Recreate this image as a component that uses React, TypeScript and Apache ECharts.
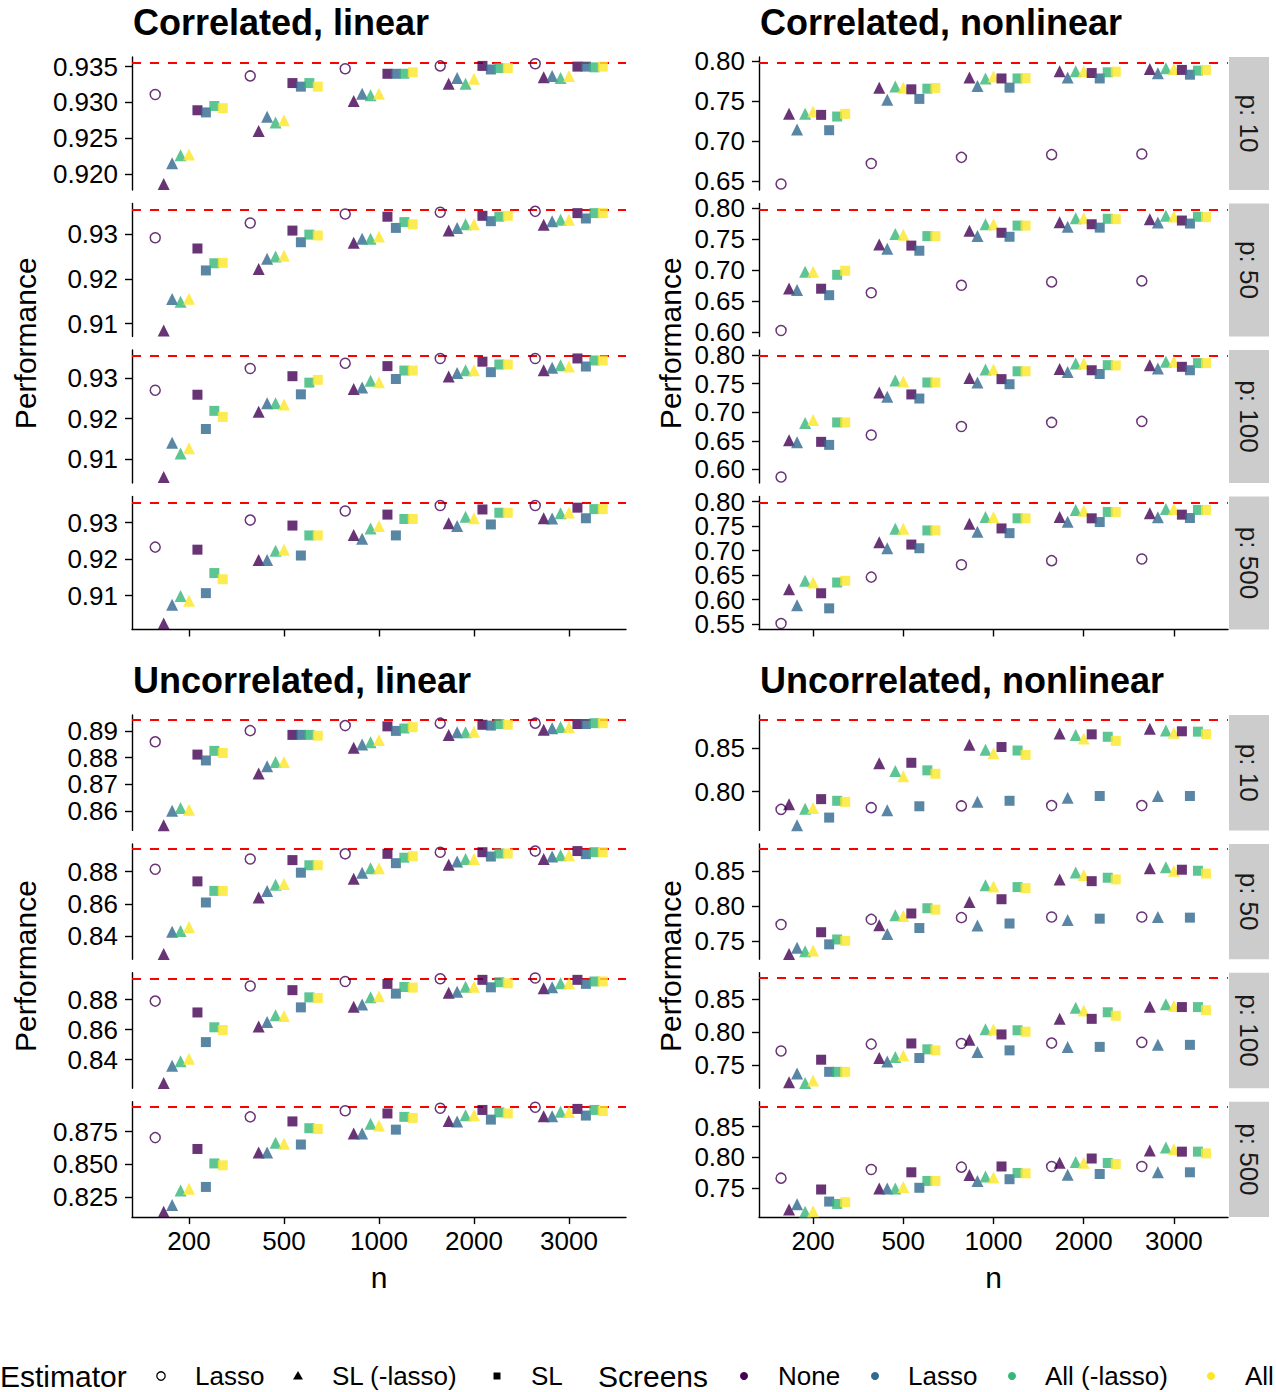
import React, { useEffect, useRef } from "react";
import * as echarts from "echarts";

// ---------- categories & labels ----------
const nLabels = ["200", "500", "1000", "2000", "3000"];
const pLabels = ["p: 10", "p: 50", "p: 100", "p: 500"];
const panelTitles = ["Correlated, linear", "Correlated, nonlinear", "Uncorrelated, linear", "Uncorrelated, nonlinear"];
const estimatorNames = ["Lasso", "SL (-lasso)", "SL"];
const screenNames = ["None", "Lasso", "All (-lasso)", "All"];

// series order inside each facet: [estimator, screen]
const seriesDefs: [string, string][] = [
  ["Lasso", "None"],
  ["SL (-lasso)", "None"], ["SL (-lasso)", "Lasso"], ["SL (-lasso)", "All (-lasso)"], ["SL (-lasso)", "All"],
  ["SL", "None"], ["SL", "Lasso"], ["SL", "All (-lasso)"], ["SL", "All"],
];

// reference (dashed) lines per panel
const refLines = [0.9355, 0.798, 0.894, 0.882];

// y tick labels per panel / facet
const ticksCorrLin = [[0.92, 0.925, 0.93, 0.935], [0.91, 0.92, 0.93], [0.91, 0.92, 0.93], [0.91, 0.92, 0.93]];
const ticksCorrNonlin = [[0.65, 0.7, 0.75, 0.8], [0.6, 0.65, 0.7, 0.75, 0.8], [0.6, 0.65, 0.7, 0.75, 0.8], [0.55, 0.6, 0.65, 0.7, 0.75, 0.8]];
const ticksUncorrLin = [[0.86, 0.87, 0.88, 0.89], [0.84, 0.86, 0.88], [0.84, 0.86, 0.88], [0.825, 0.85, 0.875]];
const ticksUncorrNonlin = [[0.8, 0.85], [0.75, 0.8, 0.85], [0.75, 0.8, 0.85], [0.75, 0.8, 0.85]];
const decCorrLin = [3, 2, 2, 2];
const decCorrNonlin = [2, 2, 2, 2];
const decUncorrLin = [2, 2, 2, 3];
const decUncorrNonlin = [2, 2, 2, 2];

// ---------- data: rows follow seriesDefs, columns follow nLabels ----------
const corrLin_p10 = [
  [0.9311, 0.9337, 0.9347, 0.9351, 0.9354],
  [0.9186, 0.9260, 0.9302, 0.9326, 0.9335],
  [0.9215, 0.9280, 0.9312, 0.9334, 0.9337],
  [0.9226, 0.9272, 0.9310, 0.9326, 0.9334],
  [0.9227, 0.9275, 0.9312, 0.9333, 0.9337],
  [0.9289, 0.9327, 0.9340, 0.9351, 0.9350],
  [0.9286, 0.9322, 0.9340, 0.9346, 0.9350],
  [0.9295, 0.9327, 0.9340, 0.9348, 0.9349],
  [0.9292, 0.9322, 0.9342, 0.9348, 0.9350],
];
const corrLin_p50 = [
  [0.9292, 0.9325, 0.9345, 0.9349, 0.9351],
  [0.9085, 0.9222, 0.9281, 0.9308, 0.9321],
  [0.9155, 0.9245, 0.9290, 0.9314, 0.9329],
  [0.9149, 0.9250, 0.9290, 0.9322, 0.9332],
  [0.9156, 0.9252, 0.9295, 0.9322, 0.9332],
  [0.9268, 0.9308, 0.9339, 0.9341, 0.9347],
  [0.9219, 0.9282, 0.9314, 0.9329, 0.9335],
  [0.9235, 0.9299, 0.9327, 0.9339, 0.9347],
  [0.9236, 0.9297, 0.9322, 0.9341, 0.9347],
];
const corrLin_p100 = [
  [0.9270, 0.9324, 0.9337, 0.9349, 0.9349],
  [0.9055, 0.9217, 0.9273, 0.9304, 0.9320],
  [0.9140, 0.9238, 0.9277, 0.9313, 0.9326],
  [0.9113, 0.9238, 0.9294, 0.9320, 0.9332],
  [0.9126, 0.9235, 0.9290, 0.9320, 0.9329],
  [0.9259, 0.9305, 0.9330, 0.9341, 0.9349],
  [0.9174, 0.9260, 0.9298, 0.9315, 0.9329],
  [0.9219, 0.9289, 0.9319, 0.9334, 0.9344],
  [0.9204, 0.9296, 0.9319, 0.9334, 0.9344],
];
const corrLin_p500 = [
  [0.9233, 0.9307, 0.9332, 0.9347, 0.9347],
  [0.9024, 0.9198, 0.9266, 0.9298, 0.9312],
  [0.9075, 0.9198, 0.9256, 0.9291, 0.9311],
  [0.9099, 0.9223, 0.9284, 0.9316, 0.9326],
  [0.9086, 0.9226, 0.9291, 0.9312, 0.9328],
  [0.9226, 0.9292, 0.9322, 0.9336, 0.9341],
  [0.9107, 0.9210, 0.9265, 0.9295, 0.9312],
  [0.9162, 0.9265, 0.9310, 0.9327, 0.9337],
  [0.9145, 0.9265, 0.9310, 0.9327, 0.9337],
];

const corrNonlin_p10 = [
  [0.6466, 0.6722, 0.6799, 0.6833, 0.6841],
  [0.7344, 0.7672, 0.7800, 0.7876, 0.7906],
  [0.7148, 0.7519, 0.7693, 0.7800, 0.7851],
  [0.7344, 0.7685, 0.7787, 0.7876, 0.7915],
  [0.7374, 0.7672, 0.7813, 0.7876, 0.7906],
  [0.7331, 0.7651, 0.7787, 0.7855, 0.7894],
  [0.7139, 0.7531, 0.7672, 0.7787, 0.7834],
  [0.7310, 0.7659, 0.7787, 0.7864, 0.7885],
  [0.7344, 0.7668, 0.7791, 0.7872, 0.7894],
];
const corrNonlin_p50 = [
  [0.6022, 0.6632, 0.6753, 0.6808, 0.6824],
  [0.6703, 0.7412, 0.7637, 0.7775, 0.7824],
  [0.6676, 0.7346, 0.7550, 0.7703, 0.7769],
  [0.6973, 0.7582, 0.7742, 0.7841, 0.7879],
  [0.6973, 0.7571, 0.7742, 0.7841, 0.7868],
  [0.6698, 0.7396, 0.7604, 0.7742, 0.7802],
  [0.6593, 0.7313, 0.7539, 0.7687, 0.7753],
  [0.6923, 0.7550, 0.7720, 0.7830, 0.7863],
  [0.6989, 0.7550, 0.7720, 0.7824, 0.7857],
];
const corrNonlin_p100 = [
  [0.5869, 0.6601, 0.6750, 0.6821, 0.6839],
  [0.6512, 0.7345, 0.7595, 0.7756, 0.7821],
  [0.6476, 0.7268, 0.7518, 0.7702, 0.7762],
  [0.6810, 0.7554, 0.7744, 0.7851, 0.7881],
  [0.6863, 0.7536, 0.7744, 0.7851, 0.7881],
  [0.6482, 0.7310, 0.7577, 0.7732, 0.7792],
  [0.6429, 0.7238, 0.7488, 0.7667, 0.7732],
  [0.6821, 0.7518, 0.7714, 0.7821, 0.7857],
  [0.6821, 0.7518, 0.7714, 0.7816, 0.7857],
];
const corrNonlin_p500 = [
  [0.5514, 0.6459, 0.6712, 0.6795, 0.6829],
  [0.6212, 0.7171, 0.7550, 0.7685, 0.7760],
  [0.5884, 0.7048, 0.7384, 0.7589, 0.7678],
  [0.6384, 0.7445, 0.7685, 0.7829, 0.7849],
  [0.6349, 0.7445, 0.7685, 0.7815, 0.7849],
  [0.6130, 0.7123, 0.7452, 0.7658, 0.7733],
  [0.5822, 0.7048, 0.7356, 0.7582, 0.7664],
  [0.6349, 0.7411, 0.7658, 0.7788, 0.7829],
  [0.6384, 0.7411, 0.7658, 0.7788, 0.7829],
];

const uncorrLin_p10 = [
  [0.8859, 0.8901, 0.8920, 0.8929, 0.8929],
  [0.8546, 0.8740, 0.8837, 0.8885, 0.8904],
  [0.8600, 0.8767, 0.8849, 0.8895, 0.8910],
  [0.8610, 0.8783, 0.8857, 0.8895, 0.8915],
  [0.8604, 0.8783, 0.8866, 0.8897, 0.8914],
  [0.8811, 0.8885, 0.8917, 0.8923, 0.8926],
  [0.8789, 0.8885, 0.8900, 0.8920, 0.8926],
  [0.8825, 0.8885, 0.8909, 0.8926, 0.8929],
  [0.8817, 0.8882, 0.8914, 0.8923, 0.8929],
];
const uncorrLin_p50 = [
  [0.8815, 0.8879, 0.8911, 0.8921, 0.8928],
  [0.8289, 0.8640, 0.8757, 0.8843, 0.8879],
  [0.8428, 0.8681, 0.8794, 0.8864, 0.8894],
  [0.8432, 0.8719, 0.8821, 0.8879, 0.8902],
  [0.8457, 0.8723, 0.8821, 0.8879, 0.8902],
  [0.8740, 0.8872, 0.8911, 0.8921, 0.8928],
  [0.8609, 0.8794, 0.8853, 0.8894, 0.8909],
  [0.8681, 0.8840, 0.8887, 0.8913, 0.8921],
  [0.8681, 0.8840, 0.8896, 0.8913, 0.8921],
];
const uncorrLin_p100 = [
  [0.8791, 0.8892, 0.8922, 0.8940, 0.8945],
  [0.8244, 0.8621, 0.8754, 0.8846, 0.8876],
  [0.8359, 0.8651, 0.8768, 0.8853, 0.8883],
  [0.8389, 0.8697, 0.8816, 0.8887, 0.8910],
  [0.8405, 0.8692, 0.8823, 0.8887, 0.8910],
  [0.8715, 0.8864, 0.8906, 0.8933, 0.8933],
  [0.8517, 0.8749, 0.8841, 0.8883, 0.8906],
  [0.8616, 0.8816, 0.8885, 0.8917, 0.8922],
  [0.8598, 0.8812, 0.8881, 0.8910, 0.8922],
];
const uncorrLin_p500 = [
  [0.8705, 0.8864, 0.8911, 0.8930, 0.8938],
  [0.8136, 0.8591, 0.8737, 0.8832, 0.8869],
  [0.8189, 0.8591, 0.8737, 0.8829, 0.8869],
  [0.8300, 0.8665, 0.8811, 0.8877, 0.8903],
  [0.8314, 0.8657, 0.8798, 0.8877, 0.8901],
  [0.8618, 0.8829, 0.8890, 0.8917, 0.8925],
  [0.8327, 0.8652, 0.8766, 0.8843, 0.8874],
  [0.8507, 0.8777, 0.8864, 0.8898, 0.8917],
  [0.8493, 0.8771, 0.8856, 0.8890, 0.8909],
];

const uncorrNonlin_p10 = [
  [0.7795, 0.7815, 0.7835, 0.7839, 0.7839],
  [0.7854, 0.8327, 0.8539, 0.8669, 0.8721],
  [0.7614, 0.7784, 0.7882, 0.7929, 0.7949],
  [0.7803, 0.8236, 0.8480, 0.8650, 0.8701],
  [0.7811, 0.8177, 0.8441, 0.8610, 0.8677],
  [0.7913, 0.8331, 0.8512, 0.8658, 0.8693],
  [0.7701, 0.7831, 0.7894, 0.7949, 0.7949],
  [0.7894, 0.8244, 0.8472, 0.8630, 0.8689],
  [0.7882, 0.8205, 0.8421, 0.8583, 0.8661],
];
const uncorrNonlin_p50 = [
  [0.7739, 0.7813, 0.7838, 0.7848, 0.7848],
  [0.7316, 0.7729, 0.8062, 0.8386, 0.8545],
  [0.7406, 0.7605, 0.7724, 0.7804, 0.7848],
  [0.7356, 0.7873, 0.8301, 0.8485, 0.8560],
  [0.7366, 0.7863, 0.8286, 0.8450, 0.8510],
  [0.7629, 0.7898, 0.8102, 0.8361, 0.8525],
  [0.7455, 0.7689, 0.7754, 0.7823, 0.7838],
  [0.7525, 0.7973, 0.8276, 0.8410, 0.8510],
  [0.7505, 0.7953, 0.8261, 0.8386, 0.8470],
];
const uncorrNonlin_p100 = [
  [0.7711, 0.7816, 0.7826, 0.7832, 0.7842],
  [0.7237, 0.7605, 0.7884, 0.8200, 0.8384],
  [0.7368, 0.7553, 0.7695, 0.7774, 0.7805],
  [0.7226, 0.7621, 0.8042, 0.8368, 0.8421],
  [0.7263, 0.7642, 0.8037, 0.8326, 0.8395],
  [0.7579, 0.7826, 0.7963, 0.8200, 0.8379],
  [0.7395, 0.7605, 0.7721, 0.7774, 0.7805],
  [0.7395, 0.7737, 0.8026, 0.8300, 0.8379],
  [0.7395, 0.7721, 0.8005, 0.8247, 0.8332],
];
const uncorrNonlin_p500 = [
  [0.7657, 0.7798, 0.7837, 0.7848, 0.7848],
  [0.7146, 0.7489, 0.7708, 0.7910, 0.8107],
  [0.7230, 0.7489, 0.7612, 0.7714, 0.7753],
  [0.7107, 0.7489, 0.7685, 0.7921, 0.8157],
  [0.7118, 0.7511, 0.7669, 0.7910, 0.8129],
  [0.7472, 0.7753, 0.7848, 0.7978, 0.8090],
  [0.7275, 0.7500, 0.7640, 0.7725, 0.7753],
  [0.7236, 0.7612, 0.7742, 0.7905, 0.8090],
  [0.7264, 0.7612, 0.7736, 0.7888, 0.8062],
];

// ---------- styling / layout ----------
const FONT = "Liberation Sans, Arial, Helvetica, sans-serif";
const screenColors: Record<string, string> = {
  None: "#440154",
  Lasso: "#31688E",
  "All (-lasso)": "#35B779",
  All: "#FDE725",
};
const colLeft = [132, 759];
const colWidth = [494, 469];
const rowTop = [57, 715];
const facetH = [133, 115.4];
const facetGap = 13.5;
const dodgeWidth = 0.8;
const stripX = 1229;
const stripW = 40;

const panels = [
  { col: 0, row: 0, facets: [corrLin_p10, corrLin_p50, corrLin_p100, corrLin_p500], ticks: ticksCorrLin, dec: decCorrLin, strip: false },
  { col: 1, row: 0, facets: [corrNonlin_p10, corrNonlin_p50, corrNonlin_p100, corrNonlin_p500], ticks: ticksCorrNonlin, dec: decCorrNonlin, strip: true },
  { col: 0, row: 1, facets: [uncorrLin_p10, uncorrLin_p50, uncorrLin_p100, uncorrLin_p500], ticks: ticksUncorrLin, dec: decUncorrLin, strip: false },
  { col: 1, row: 1, facets: [uncorrNonlin_p10, uncorrNonlin_p50, uncorrNonlin_p100, uncorrNonlin_p500], ticks: ticksUncorrNonlin, dec: decUncorrNonlin, strip: true },
];

function buildOption() {
  const grids: any[] = [];
  const xAxes: any[] = [];
  const yAxes: any[] = [];
  const series: any[] = [];
  const graphics: any[] = [];
  const axisLineStyle = { color: "#000", width: 1.4 };

  panels.forEach((panel, pi) => {
    const left = colLeft[panel.col];
    const width = colWidth[panel.col];
    const h = facetH[panel.row];
    const ref = refLines[pi];

    // panel title
    graphics.push({
      type: "text",
      x: left + 1,
      y: rowTop[panel.row] - 35,
      style: { text: panelTitles[pi], font: `bold 36px ${FONT}`, fill: "#000", textVerticalAlign: "middle" },
    });
    // y title
    const mid = rowTop[panel.row] + (4 * h + 3 * facetGap) / 2;
    graphics.push({
      type: "text",
      x: panel.col === 0 ? 25 : 670,
      y: mid,
      rotation: Math.PI / 2,
      style: { text: "Performance", font: `30px ${FONT}`, fill: "#000", textAlign: "center", textVerticalAlign: "middle" },
    });
    if (panel.row === 1) {
      graphics.push({
        type: "text",
        x: left + width / 2,
        y: 1277,
        style: { text: "n", font: `30px ${FONT}`, fill: "#000", textAlign: "center", textVerticalAlign: "middle" },
      });
    }

    panel.facets.forEach((facet, fi) => {
      const gi = grids.length;
      const top = rowTop[panel.row] + fi * (h + facetGap);
      grids.push({ left, top, width, height: h });
      const bottomFacet = fi === 3;
      const labelled = bottomFacet && panel.row === 1;
      xAxes.push({
        type: "value",
        gridIndex: gi,
        min: -0.6,
        max: 4.6,
        axisLine: { show: bottomFacet, onZero: false, lineStyle: axisLineStyle },
        axisTick: { show: bottomFacet, customValues: [0, 1, 2, 3, 4], length: 7, lineStyle: axisLineStyle },
        axisLabel: {
          show: labelled,
          customValues: [0, 1, 2, 3, 4],
          formatter: (v: number) => nLabels[Math.round(v)],
          fontSize: 26,
          fontFamily: FONT,
          color: "#000",
          margin: 11,
          showMinLabel: true,
          showMaxLabel: true,
        },
        splitLine: { show: false },
      });
      const all = facet.flat().concat([ref]);
      const lo = Math.min(...all);
      const hi = Math.max(...all);
      const pad = 0.05 * (hi - lo);
      const dec = panel.dec[fi];
      const ticks = panel.ticks[fi];
      // two stacked y axes on the same side (alternating ticks) so that tightly
      // spaced labels are never auto-hidden
      const tickSets = [ticks.filter((_, k) => k % 2 === 0), ticks.filter((_, k) => k % 2 === 1)];
      tickSets.forEach((vals, ai) => {
        yAxes.push({
          type: "value",
          gridIndex: gi,
          position: "left",
          offset: 0,
          min: lo - pad,
          max: hi + pad,
          axisLine: { show: ai === 0, onZero: false, lineStyle: axisLineStyle },
          axisTick: { show: vals.length > 0, customValues: vals, length: 7, lineStyle: axisLineStyle },
          axisLabel: {
            show: vals.length > 0,
            customValues: vals,
            formatter: (v: number) => v.toFixed(dec),
            fontSize: 26,
            fontFamily: FONT,
            color: "#000",
            margin: 14,
            showMinLabel: true,
            showMaxLabel: true,
          },
          splitLine: { show: false },
        });
      });
      const yIdx = yAxes.length - 2;

      facet.forEach((vals, si) => {
        const [est, screen] = seriesDefs[si];
        const color = screenColors[screen];
        const off = (si - 4) * (dodgeWidth / 9);
        const s: any = {
          type: "scatter",
          name: `${est} / ${screen}`,
          xAxisIndex: gi,
          yAxisIndex: yIdx,
          data: vals.map((v, i) => [i + off, v]),
          silent: true,
          z: 3,
        };
        if (est === "Lasso") {
          s.symbol = "circle";
          s.symbolSize = 10;
          s.itemStyle = { color: "rgba(255,255,255,0)", borderColor: color, borderWidth: 1.5 };
        } else if (est === "SL (-lasso)") {
          s.symbol = "triangle";
          s.symbolSize = 12;
          s.itemStyle = { color };
        } else {
          s.symbol = "rect";
          s.symbolSize = 10;
          s.itemStyle = { color };
        }
        if (si === 0) {
          s.markLine = {
            silent: true,
            precision: 6,
            symbol: ["none", "none"],
            label: { show: false },
            lineStyle: { color: "#FF0000", width: 2, type: [9, 9] },
            data: [{ yAxis: ref }],
            z: 2,
          };
        }
        series.push(s);
      });

      if (panel.strip) {
        graphics.push({
          type: "rect",
          shape: { x: stripX, y: top, width: stripW, height: h },
          style: { fill: "#CCCCCC" },
        });
        graphics.push({
          type: "text",
          x: stripX + stripW / 2,
          y: top + h / 2,
          rotation: -Math.PI / 2,
          style: { text: pLabels[fi], font: `26px ${FONT}`, fill: "#1A1A1A", textAlign: "center", textVerticalAlign: "middle" },
        });
      }
    });
  });

  // ---------- legend ----------
  const ly = 1376;
  const txt = (x: number, t: string, size: number) => ({
    type: "text",
    x,
    y: ly,
    style: { text: t, font: `${size}px ${FONT}`, fill: "#000", textVerticalAlign: "middle" },
  });
  graphics.push(txt(0, "Estimator", 30));
  graphics.push({ type: "circle", shape: { cx: 161, cy: ly, r: 4.2 }, style: { fill: "none", stroke: "#000", lineWidth: 1.3 } });
  graphics.push(txt(195, estimatorNames[0], 26));
  graphics.push({ type: "polygon", shape: { points: [[298, ly - 5], [303, ly + 3.5], [293, ly + 3.5]] }, style: { fill: "#000" } });
  graphics.push(txt(332, estimatorNames[1], 26));
  graphics.push({ type: "rect", shape: { x: 493.5, y: ly - 3.5, width: 7, height: 7 }, style: { fill: "#000" } });
  graphics.push(txt(531, estimatorNames[2], 26));
  graphics.push(txt(598, "Screens", 30));
  const dotX = [744, 875, 1012, 1211];
  const labX = [778, 908, 1045, 1245];
  screenNames.forEach((s, i) => {
    graphics.push({ type: "circle", shape: { cx: dotX[i], cy: ly, r: 4 }, style: { fill: screenColors[s] } });
    graphics.push(txt(labX[i], s, 26));
  });

  return {
    animation: false,
    backgroundColor: "#fff",
    grid: grids,
    xAxis: xAxes,
    yAxis: yAxes,
    series,
    graphic: graphics,
  };
}

export default function App() {
  const ref = useRef<HTMLDivElement>(null);
  useEffect(() => {
    document.body.style.margin = "0";
    if (!ref.current) return;
    const chart = echarts.init(ref.current, undefined, { renderer: "svg" });
    chart.setOption(buildOption() as any);
    return () => chart.dispose();
  }, []);
  return <div ref={ref} style={{ width: 1276, height: 1392 }} />;
}
